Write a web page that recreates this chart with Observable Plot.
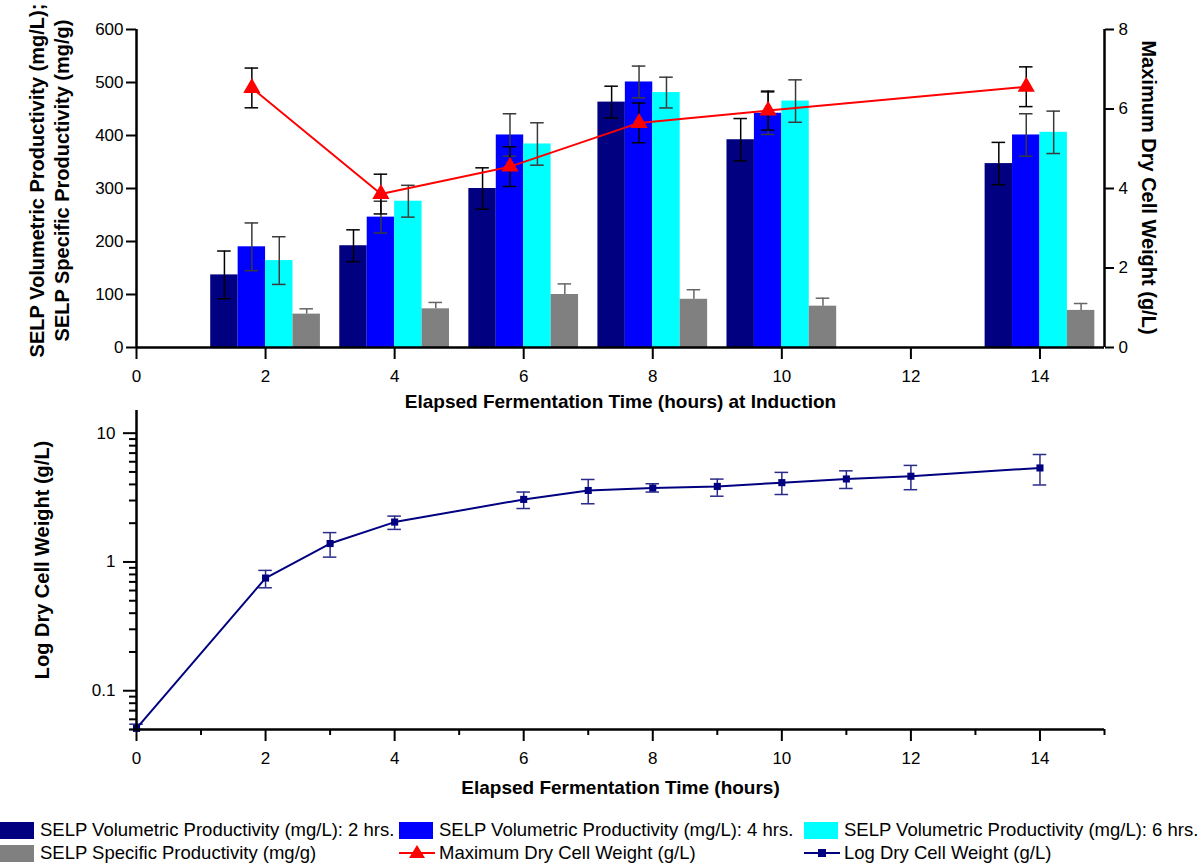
<!DOCTYPE html>
<html><head><meta charset="utf-8">
<script src="https://cdn.jsdelivr.net/npm/d3@7"></script>
<script src="https://cdn.jsdelivr.net/npm/@observablehq/plot@0.6"></script>
<style>
body{margin:0;background:#fff;font-family:'Liberation Sans',Arial,Helvetica,sans-serif;}
#wrap{position:relative;width:1200px;height:864px;overflow:hidden;}
#top{position:absolute;left:0;top:0;}
#bot{position:absolute;left:0;top:400px;}
.lgt{position:absolute;font-size:18.5px;line-height:20px;white-space:nowrap;color:#000;}
.sw{position:absolute;width:34px;height:17px;}
.mk{position:absolute;}
</style></head><body><div id="wrap"><div id="top"></div><div id="bot"></div><div id="legend"></div></div>
<script>
// ---------- data ----------
const hours = [2, 4, 6, 8, 10, 14];
const seriesNames = [
  "SELP Volumetric Productivity (mg/L): 2 hrs.",
  "SELP Volumetric Productivity (mg/L): 4 hrs.",
  "SELP Volumetric Productivity (mg/L): 6 hrs.",
  "SELP Specific Productivity (mg/g)"
];
const seriesColors = ["#000080", "#0000ff", "#00ffff", "#808080"];
const errColors = ["#000000", "#3a3a3a", "#3a3a3a", "#666666"];
const vol2h = [137, 192, 300, 463, 392, 347];
const vol2hErr = [45, 30, 39, 30, 40, 40];
const vol4h = [190, 246, 401, 501, 442, 401];
const vol4hErr = [45, 30, 40, 30, 40, 40];
const vol6h = [164, 276, 384, 481, 465, 406];
const vol6hErr = [45, 30, 40, 29, 40, 40];
const specProd = [63, 73, 100, 91, 78, 70];
const specProdErr = [10, 12, 20, 18, 15, 13];
const maxDcwName = "Maximum Dry Cell Weight (g/L)";
const maxDcw = [6.53, 3.86, 4.55, 5.65, 5.96, 6.56];
const maxDcwErr = [0.5, 0.5, 0.5, 0.5, 0.49, 0.5];
const leftTicks = [0, 100, 200, 300, 400, 500, 600];
const rightTicks = [0, 2, 4, 6, 8];
const topXTicks = [0, 2, 4, 6, 8, 10, 12, 14];

const logName = "Log Dry Cell Weight (g/L)";
const logHours = [0, 2, 3, 4, 6, 7, 8, 9, 10, 11, 12, 14];
const logDcw   = [0.051, 0.75, 1.39, 2.04, 3.06, 3.59, 3.75, 3.86, 4.13, 4.41, 4.63, 5.37];
const logDcwHi = [0.055, 0.86, 1.69, 2.27, 3.49, 4.37, 4.05, 4.40, 4.96, 5.10, 5.62, 6.83];
const logDcwLo = [0.05, 0.63, 1.09, 1.79, 2.60, 2.83, 3.49, 3.24, 3.34, 3.72, 3.64, 3.96];
const logYTicks = [0.1, 1, 10];
const logXMajor = [0, 2, 4, 6, 8, 10, 12, 14];
const logXMinor = [1, 3, 5, 7, 9, 11, 13, 15];

const leftTitle1 = "SELP Volumetric Productivity (mg/L);";
const leftTitle2 = "SELP Specific Productivity (mg/g)";
const topXTitle = "Elapsed Fermentation Time (hours) at Induction";
const botXTitle = "Elapsed Fermentation Time (hours)";

// ---------- layout helpers ----------
const FONT = "'Liberation Sans', Arial, Helvetica, sans-serif";
const k = leftTicks[leftTicks.length - 1] / rightTicks[rightTicks.length - 1];
const barW = 0.425;
const offsets = [-0.85, -0.425, 0, 0.425];
const capHalf = 0.105;
const seriesVals = [vol2h, vol4h, vol6h, specProd];
const seriesErrs = [vol2hErr, vol4hErr, vol6hErr, specProdErr];

const bars = seriesVals.flatMap((vals, i) => vals.map((v, j) => ({
  s: seriesNames[i], i, v, e: seriesErrs[i][j],
  x1: hours[j] + offsets[i], x2: hours[j] + offsets[i] + barW,
  xc: hours[j] + offsets[i] + barW / 2
})));
const dcw = hours.map((h, j) => ({
  xc: h + offsets[1] + barW / 2, v: maxDcw[j] * k, e: maxDcwErr[j] * k
}));

const errMarks = [];
seriesNames.forEach((name, i) => {
  const sub = bars.filter(d => d.i === i);
  const upperOnly = i === 3;
  errMarks.push(Plot.ruleX(sub, {x: "xc", y1: d => upperOnly ? d.v : d.v - d.e, y2: d => d.v + d.e, stroke: errColors[i], strokeWidth: 1.5}));
  errMarks.push(Plot.ruleY(sub, {y: d => d.v + d.e, x1: d => d.xc - capHalf, x2: d => d.xc + capHalf, stroke: errColors[i], strokeWidth: 1.5}));
  if (!upperOnly) errMarks.push(Plot.ruleY(sub, {y: d => d.v - d.e, x1: d => d.xc - capHalf, x2: d => d.xc + capHalf, stroke: errColors[i], strokeWidth: 1.5}));
});

const commonStyle = {fontFamily: FONT, fontSize: "17px", color: "#000", background: "transparent", overflow: "visible"};

const topPlot = Plot.plot({
  width: 1200, height: 420,
  marginTop: 29, marginBottom: 73, marginLeft: 136, marginRight: 96,
  x: {domain: [0, 15]},
  y: {domain: [0, 600]},
  color: {domain: seriesNames, range: seriesColors},
  style: commonStyle,
  marks: [
    Plot.rect(bars, {x1: "x1", x2: "x2", y1: 0, y2: "v", fill: "s"}),
    ...errMarks,
    Plot.line(dcw, {x: "xc", y: "v", stroke: "#ff0000", strokeWidth: 2}),
    Plot.ruleX(dcw, {x: "xc", y1: d => d.v - d.e, y2: d => d.v + d.e, stroke: "#000", strokeWidth: 1.5}),
    Plot.ruleY(dcw, {y: d => d.v + d.e, x1: d => d.xc - capHalf, x2: d => d.xc + capHalf, stroke: "#000", strokeWidth: 1.5}),
    Plot.ruleY(dcw, {y: d => d.v - d.e, x1: d => d.xc - capHalf, x2: d => d.xc + capHalf, stroke: "#000", strokeWidth: 1.5}),
    Plot.dot(dcw, {x: "xc", y: "v", symbol: "triangle", r: 6.4, fill: "#ff0000", stroke: "none"}),
    Plot.ruleY([0], {stroke: "#000", strokeWidth: 2.5}),
    Plot.ruleX([0], {y1: 0, y2: 600, stroke: "#000", strokeWidth: 2.5}),
    Plot.ruleX([15], {y1: 0, y2: 600, stroke: "#000", strokeWidth: 2.5}),
    Plot.axisX(topXTicks, {tickSize: 12, tickPadding: 10, strokeWidth: 2, label: null}),
    Plot.axisY(leftTicks, {anchor: "left", tickSize: 10, tickPadding: 3, strokeWidth: 2, label: null}),
    Plot.axisY(rightTicks.map(v => v * k), {anchor: "right", tickSize: 9, tickPadding: 5, strokeWidth: 2, tickFormat: d => String(d / k), label: null}),
    Plot.text([leftTitle1], {frameAnchor: "left", dx: -99, dy: -8, rotate: -90, fontSize: 20, fontWeight: "bold", textAnchor: "middle"}),
    Plot.text([leftTitle2], {frameAnchor: "left", dx: -74, dy: -8, rotate: -90, fontSize: 20, fontWeight: "bold", textAnchor: "middle"}),
    Plot.text([maxDcwName], {frameAnchor: "right", dx: 44, dy: -1, rotate: 90, fontSize: 20, fontWeight: "bold", textAnchor: "middle"}),
    Plot.text([topXTitle], {frameAnchor: "bottom", dy: 60, fontSize: 19, fontWeight: "bold"})
  ]
});
document.getElementById("top").appendChild(topPlot);

const logData = logHours.map((h, j) => ({h, v: logDcw[j], hi: logDcwHi[j], lo: logDcwLo[j]}));
const yMinor = [];
[0.01, 0.1, 1].forEach(dec => { for (let m = 2; m <= 9; m++) { const t = +(m * dec).toPrecision(3); if (t >= 0.05 && t <= 15) yMinor.push(t); } });

const botPlot = Plot.plot({
  width: 1200, height: 410,
  marginTop: 10, marginBottom: 81, marginLeft: 136, marginRight: 96,
  x: {domain: [0, 15]},
  y: {type: "log", domain: [0.05, 15]},
  style: commonStyle,
  marks: [
    Plot.ruleX(logData, {x: "h", y1: "lo", y2: "hi", stroke: "#2b2b8a", strokeWidth: 1.5}),
    Plot.ruleY(logData, {y: "hi", x1: d => d.h - capHalf, x2: d => d.h + capHalf, stroke: "#2b2b8a", strokeWidth: 1.5}),
    Plot.ruleY(logData, {y: "lo", x1: d => d.h - capHalf, x2: d => d.h + capHalf, stroke: "#2b2b8a", strokeWidth: 1.5}),
    Plot.line(logData, {x: "h", y: "v", stroke: "#000080", strokeWidth: 2}),
    Plot.dot(logData, {x: "h", y: "v", symbol: "square", r: 4, fill: "#000080", stroke: "none"}),
    Plot.ruleY([0.05], {stroke: "#000", strokeWidth: 2.5}),
    Plot.ruleX([0], {stroke: "#000", strokeWidth: 2.5}),
    Plot.axisX(logXMajor, {tickSize: 12, tickPadding: 10, strokeWidth: 2, label: null}),
    Plot.axisX(logXMinor, {tickSize: 6, strokeWidth: 2, tickFormat: () => "", label: null}),
    Plot.axisY(logYTicks, {anchor: "left", tickSize: 13, tickPadding: 8, strokeWidth: 2, tickFormat: d => String(d), label: null}),
    Plot.axisY(yMinor, {anchor: "left", tickSize: 7, strokeWidth: 2, tickFormat: () => "", label: null}),
    Plot.text([logName], {frameAnchor: "left", dx: -94, dy: -10, rotate: -90, fontSize: 20, fontWeight: "bold", textAnchor: "middle"}),
    Plot.text([botXTitle], {frameAnchor: "bottom", dy: 64, fontSize: 19, fontWeight: "bold"})
  ]
});
document.getElementById("bot").appendChild(botPlot);

// ---------- legend ----------
const legend = document.getElementById("legend");
const colX = [0, 399, 804];
const rowY = [822, 845];
const items = [
  {kind: "sw", color: seriesColors[0], label: seriesNames[0]},
  {kind: "sw", color: seriesColors[1], label: seriesNames[1]},
  {kind: "sw", color: seriesColors[2], label: seriesNames[2]},
  {kind: "sw", color: seriesColors[3], label: seriesNames[3]},
  {kind: "tri", color: "#ff0000", label: maxDcwName},
  {kind: "sq", color: "#000080", label: logName}
];
items.forEach((it, n) => {
  const x = colX[n % 3], y = rowY[Math.floor(n / 3)];
  if (it.kind === "sw") {
    const d = document.createElement("div");
    d.className = "sw"; d.style.left = x + "px"; d.style.top = y + "px"; d.style.background = it.color;
    legend.appendChild(d);
  } else {
    const ns = "http://www.w3.org/2000/svg";
    const s = document.createElementNS(ns, "svg");
    s.setAttribute("width", 40); s.setAttribute("height", 20);
    s.setAttribute("class", "mk");
    s.style.left = (x) + "px"; s.style.top = (y - 2) + "px";
    const l = document.createElementNS(ns, "line");
    l.setAttribute("x1", 0); l.setAttribute("x2", 36); l.setAttribute("y1", 10); l.setAttribute("y2", 10);
    l.setAttribute("stroke", it.color); l.setAttribute("stroke-width", 2);
    s.appendChild(l);
    const p = document.createElementNS(ns, "path");
    if (it.kind === "tri") p.setAttribute("d", "M18,2 L26,15 L10,15 Z");
    else p.setAttribute("d", "M14,6 H22 V14 H14 Z");
    p.setAttribute("fill", it.color);
    s.appendChild(p);
    legend.appendChild(s);
  }
  const t = document.createElement("div");
  t.className = "lgt"; t.style.left = (x + 40) + "px"; t.style.top = (y - 2) + "px";
  t.textContent = it.label;
  legend.appendChild(t);
});
</script></body></html>
